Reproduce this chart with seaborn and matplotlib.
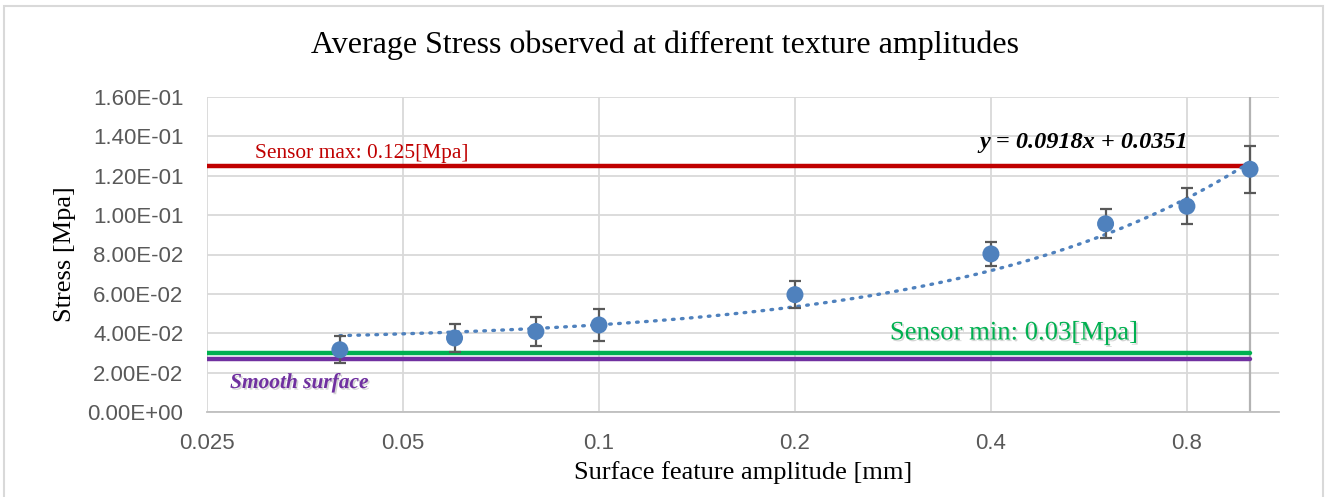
import numpy as np
import pandas as pd
import matplotlib
matplotlib.use("Agg")
import matplotlib.pyplot as plt
import matplotlib.patheffects as pe
from matplotlib.ticker import FixedLocator, FuncFormatter, NullLocator
import seaborn as sns

# ---- data ----
amplitude = [0.04, 0.06, 0.08, 0.1, 0.2, 0.4, 0.6, 0.8, 1.0]
stress = [0.0316, 0.0376, 0.0409, 0.0442, 0.0596, 0.0803, 0.0956, 0.1045, 0.1233]
stress_err = [0.0068, 0.0072, 0.0073, 0.0079, 0.0068, 0.0060, 0.0074, 0.0092, 0.0120]
trend_slope = 0.0918
trend_intercept = 0.0351
sensor_max = 0.125
sensor_min = 0.03
smooth_surface = 0.027
ref_span = [0.025, 1.0]
x_ticks = [0.025, 0.05, 0.1, 0.2, 0.4, 0.8]
x_tick_labels = ["0.025", "0.05", "0.1", "0.2", "0.4", "0.8"]
y_ticks = [0.0, 0.02, 0.04, 0.06, 0.08, 0.10, 0.12, 0.14, 0.16]

sns.set_theme(style="white")
plt.rcParams["font.family"] = ["Liberation Serif", "DejaVu Serif"]

W, H = 1330, 497
fig = plt.figure(figsize=(W / 100, H / 100), dpi=100)
ax = fig.add_axes([207 / W, 1 - 412 / H, (1279 - 207) / W, (412 - 97) / H])

ax.set_xscale("log", base=2)
ax.set_xlim(0.025, 1.108)
ax.set_ylim(0, 0.16)

# grid
ax.xaxis.set_major_locator(FixedLocator(x_ticks))
ax.xaxis.set_minor_locator(NullLocator())
ax.set_xticklabels(x_tick_labels)
ax.yaxis.set_major_locator(FixedLocator(y_ticks))
ax.yaxis.set_major_formatter(FuncFormatter(lambda v, p: f"{v:.2E}"))
ax.grid(True, color="#d9d9d9", lw=1.3)
ax.set_axisbelow(True)
for s in ["top", "right", "left"]:
    ax.spines[s].set_visible(False)
ax.spines["bottom"].set_color("#bfbfbf")
ax.spines["bottom"].set_linewidth(1.3)
ax.tick_params(axis="both", length=0, labelsize=16, labelcolor="#595959")
ax.tick_params(axis="y", pad=17)
ax.tick_params(axis="x", pad=15)
for lab in ax.get_xticklabels() + ax.get_yticklabels():
    lab.set_fontfamily(["Liberation Sans", "DejaVu Sans"])

# vertical boundary line at last amplitude
ax.axvline(ref_span[1], color="#b3b3b3", lw=1.6, zorder=1)

# reference lines
ref_df = pd.DataFrame({
    "x": ref_span * 3,
    "y": [sensor_max] * 2 + [sensor_min] * 2 + [smooth_surface] * 2,
    "kind": ["max"] * 2 + ["min"] * 2 + ["smooth"] * 2,
})
palette = {"max": "#c00000", "min": "#00b050", "smooth": "#7030a0"}
sns.lineplot(data=ref_df, x="x", y="y", hue="kind", palette=palette, lw=3.2,
             legend=False, ax=ax, zorder=2, solid_capstyle="round")

# trendline
tx = np.linspace(amplitude[0], amplitude[-1], 300)
ty = trend_slope * tx + trend_intercept
sns.lineplot(x=tx, y=ty, color="#4f81bd", lw=2.4, ax=ax, zorder=3,
             linestyle=(0, (0.5, 2.2)), dash_capstyle="round")

# points + error bars
ax.errorbar(amplitude, stress, yerr=stress_err, fmt="none", ecolor="#595959",
            elinewidth=1.6, capsize=4.5, capthick=1.6, zorder=4)
sns.scatterplot(x=amplitude, y=stress, color="#4f81bd", s=150, edgecolor="none",
                ax=ax, zorder=5)

# labels
shadow = [pe.withSimplePatchShadow(offset=(1.2, -1.2), shadow_rgbFace="#888888", alpha=0.35)]
ax.text(0.0448, 0.822, "Sensor max: 0.125[Mpa]", transform=ax.transAxes,
        color="#c00000", fontsize=15.4, va="center", ha="left")
ax.text(0.637, 0.251, "Sensor min: 0.03[Mpa]", transform=ax.transAxes,
        color="#00b050", fontsize=19.2, va="center", ha="left", path_effects=shadow)
ax.text(0.0215, 0.092, "Smooth surface", transform=ax.transAxes,
        color="#7030a0", fontsize=15.4, va="center", ha="left",
        fontweight="bold", fontstyle="italic", path_effects=shadow)
ax.text(0.721, 0.857, "y = 0.0918x + 0.0351", transform=ax.transAxes,
        color="black", fontsize=17.5, va="center", ha="left",
        fontweight="bold", fontstyle="italic")

ax.set_xlabel("Surface feature amplitude [mm]", fontsize=19, color="black", labelpad=5)
ax.set_ylabel("Stress [Mpa]", fontsize=19, color="black", labelpad=8)
fig.text(0.5, 1 - 45 / H, "Average Stress observed at different texture amplitudes",
         ha="center", va="center", fontsize=23, color="black")

# chart border
fig.add_artist(plt.Rectangle((4 / W, -0.01), (1323 - 4) / W, 1 - 6 / H + 0.01,
                             transform=fig.transFigure, fill=False,
                             edgecolor="#d9d9d9", lw=1.5))

fig.savefig("out.png", dpi=100)
